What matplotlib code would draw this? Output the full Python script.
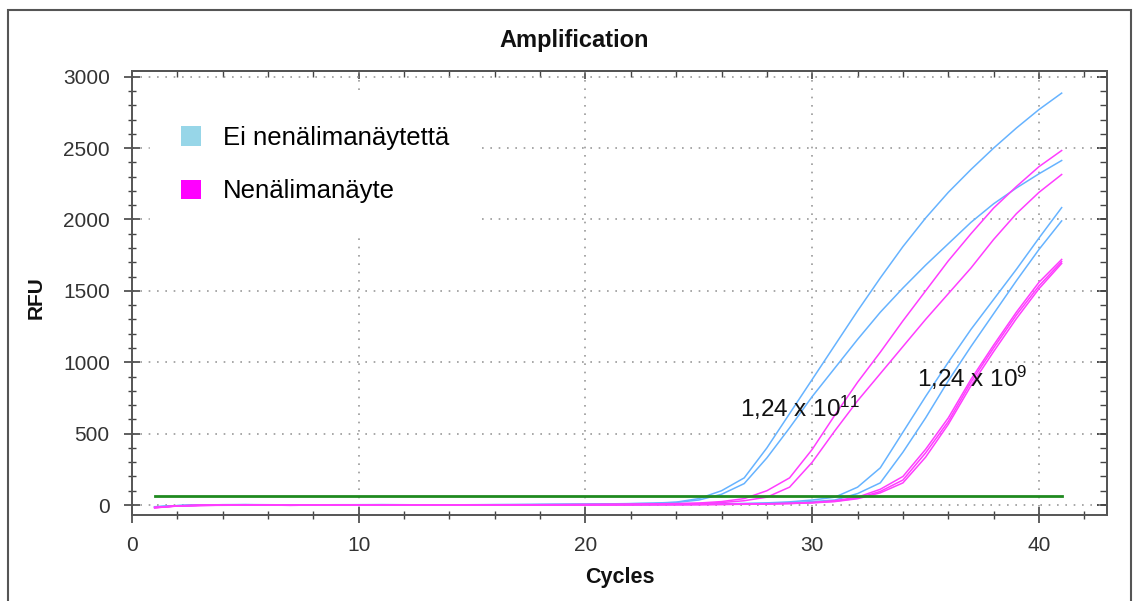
import matplotlib
matplotlib.use("Agg")
import matplotlib.pyplot as plt
from matplotlib.patches import Patch, Rectangle
from matplotlib.ticker import MultipleLocator

plt.rcParams["font.family"] = ["Liberation Sans", "DejaVu Sans"]
plt.rcParams["mathtext.fontset"] = "custom"
plt.rcParams["mathtext.rm"] = "Liberation Sans"
plt.rcParams["mathtext.it"] = "Liberation Sans"

cycles = list(range(1, 42))

# RFU per cycle, baseline subtracted
blue_a = [-15, -5, 0, 2, 3, 2, 1, 0, 1, 2, 3, 2, 1, 0, 1, 2, 3, 4, 5, 6,
          8, 10, 13, 20, 45, 100, 190, 400, 640, 880, 1120, 1360, 1590, 1810,
          2010, 2190, 2350, 2500, 2640, 2770, 2885]
blue_b = [-12, -4, 1, 2, 2, 1, 0, 1, 2, 2, 1, 0, 0, 1, 2, 3, 3, 4, 5, 6,
          7, 9, 12, 18, 35, 75, 150, 330, 540, 760, 960, 1160, 1350, 1520,
          1680, 1830, 1980, 2110, 2220, 2320, 2413]
pink_c = [-18, -6, -2, 0, 1, 0, -1, 0, 1, 0, -1, 0, 1, 1, 0, 1, 2, 2, 3, 4,
          5, 6, 8, 10, 14, 24, 45, 100, 190, 390, 630, 860, 1070, 1290,
          1500, 1710, 1900, 2080, 2230, 2370, 2483]
pink_d = [-16, -6, -2, -1, 0, 0, -1, 0, 0, 0, -1, 0, 0, 1, 1, 1, 1, 2, 2, 3,
          4, 5, 6, 8, 11, 17, 30, 55, 125, 300, 520, 730, 920, 1110,
          1300, 1480, 1660, 1860, 2040, 2190, 2315]
blue_e = [-14, -5, -1, 1, 2, 1, 0, 0, 1, 1, 0, 0, 1, 1, 0, 1, 1, 2, 2, 2,
          3, 3, 4, 5, 6, 8, 11, 15, 22, 35, 55, 125, 260, 510, 760, 1000,
          1230, 1440, 1650, 1870, 2083]
blue_f = [-13, -5, -1, 0, 1, 1, 0, 0, 0, 1, 0, 0, 0, 1, 1, 1, 1, 1, 2, 2,
          2, 3, 3, 4, 5, 6, 8, 11, 16, 24, 35, 80, 155, 370, 610, 870,
          1110, 1340, 1570, 1790, 1990]
pink_g = [-20, -7, -3, -1, 0, -1, -2, -1, 0, 0, -1, -1, 0, 0, 0, 0, 1, 1, 1, 1,
          2, 2, 3, 3, 4, 5, 7, 9, 12, 18, 30, 55, 110, 200, 390, 610,
          880, 1120, 1350, 1560, 1720]
pink_h = [-19, -7, -3, -1, -1, -1, -2, -1, -1, 0, -1, -1, 0, 0, 0, 0, 0, 1, 1, 1,
          1, 2, 2, 3, 3, 4, 6, 8, 11, 16, 26, 48, 95, 175, 365, 585,
          860, 1100, 1330, 1535, 1705]
pink_i = [-18, -6, -3, -2, -1, -1, -2, -1, -1, -1, -1, -1, 0, 0, 0, 0, 0, 0, 1, 1,
          1, 1, 2, 2, 3, 4, 5, 7, 10, 15, 24, 44, 85, 155, 335, 565,
          835, 1075, 1305, 1515, 1692]
threshold = 62

blue_series = [blue_a, blue_b, blue_e, blue_f]
pink_series = [pink_c, pink_d, pink_g, pink_h, pink_i]

legend_labels = ["Ei nenälimanäytettä", "Nenälimanäyte"]
notes = [("1,24 x 10$^{11}$", 26.8, 680), ("1,24 x 10$^{9}$", 34.6, 890)]

BLUE = "#66b3ff"
PINK = "#ff3dff"
W, H = 1138, 601

fig = plt.figure(figsize=(W / 100, H / 100), dpi=100)
ax = fig.add_axes([132 / W, 1 - 515 / H, (1107 - 132) / W, (515 - 71) / H])

for s in blue_series:
    ax.plot(cycles, s, color=BLUE, lw=1.1, zorder=3)
for s in pink_series:
    ax.plot(cycles, s, color=PINK, lw=1.1, zorder=3)
ax.plot([cycles[0], cycles[-1]], [threshold, threshold], color="#1f8a1f",
        lw=2.0, zorder=4)

ax.set_xlim(0, 43)
ax.set_ylim(-70, 3040)
ax.xaxis.set_major_locator(MultipleLocator(10))
ax.xaxis.set_minor_locator(MultipleLocator(2))
ax.yaxis.set_major_locator(MultipleLocator(500))
ax.yaxis.set_minor_locator(MultipleLocator(100))
ax.tick_params(which="both", color="#444444", labelsize=15,
               labelcolor="#333333")
ax.tick_params(which="major", direction="inout", length=12, width=1.2)
ax.tick_params(which="minor", direction="inout", length=6, width=1.0)
ax.tick_params(axis="x", which="major", pad=9)
ax.tick_params(axis="y", which="major", pad=10)
for sp in ax.spines.values():
    sp.set_color("#555555")
    sp.set_linewidth(1.4)
ax.grid(True, which="major", color="#9a9a9a", lw=1.2, linestyle=(0, (1, 4)))
ax.set_axisbelow(True)

# inward ticks on the top and right edges
top = ax.secondary_xaxis("top")
top.xaxis.set_major_locator(MultipleLocator(10))
top.xaxis.set_minor_locator(MultipleLocator(2))
top.tick_params(which="both", direction="in", labeltop=False, color="#444444")
top.tick_params(which="major", length=6, width=1.2)
top.tick_params(which="minor", length=4, width=1.0)
right = ax.secondary_yaxis("right")
right.yaxis.set_major_locator(MultipleLocator(500))
right.yaxis.set_minor_locator(MultipleLocator(100))
right.tick_params(which="both", direction="in", labelright=False,
                  color="#444444")
right.tick_params(which="major", length=7, width=1.4)
right.tick_params(which="minor", length=5, width=1.0)
for sec in (top, right):
    for sp in sec.spines.values():
        sp.set_color("#555555")
        sp.set_linewidth(1.4)

handles = [Patch(facecolor="#97d6e8", edgecolor="none"),
           Patch(facecolor="#ff00ff", edgecolor="none")]
leg = ax.legend(handles, legend_labels, loc="upper left",
                bbox_to_anchor=((150 - 132) / 975, 1 - (95 - 71) / 444),
                borderaxespad=0, fontsize=18.5, frameon=True, fancybox=False,
                framealpha=1, facecolor="white", edgecolor="white",
                handlelength=0.78, handleheight=0.78, handletextpad=0.85,
                labelspacing=1.15, borderpad=1.2)
leg.set_zorder(2.5)

for txt, x, y in notes:
    ax.text(x, y, txt, fontsize=17.5, color="#111111", va="center", ha="left",
            zorder=5)

fig.text(574 / W, 1 - 40 / H, "Amplification", ha="center", va="center",
         fontsize=17, fontweight="bold", color="#111111")
fig.text(36 / W, 1 - 298 / H, "RFU", ha="center", va="center", rotation=90,
         fontsize=15, fontweight="bold", color="#111111")
fig.text(620 / W, 1 - 578 / H, "Cycles", ha="center", va="center",
         fontsize=15.5, fontweight="bold", color="#111111")

fig.patches.append(Rectangle((8 / W, -0.05), (1131 - 8) / W, 1.05 - 10 / H,
                             transform=fig.transFigure, fill=False,
                             edgecolor="#555555", lw=1.5))

fig.savefig("out.png", dpi=100)
